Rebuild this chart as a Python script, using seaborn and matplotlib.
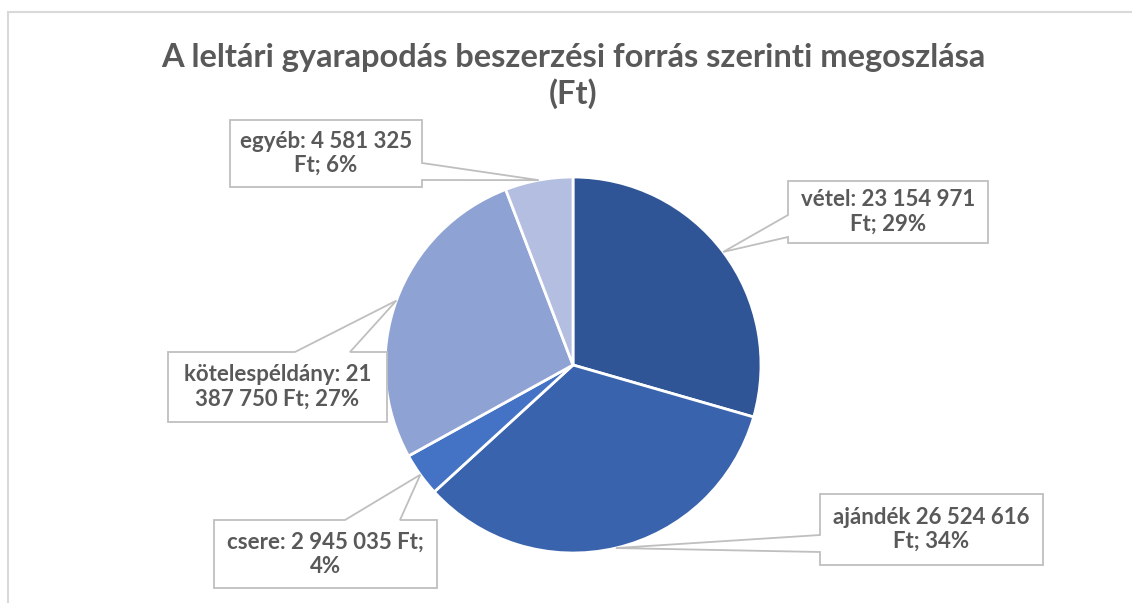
import numpy as np
import matplotlib
matplotlib.use("Agg")
import matplotlib.pyplot as plt
from matplotlib.patches import Polygon, Rectangle
import seaborn as sns

# ---- data ----
categories = ["vétel", "ajándék", "csere", "kötelespéldány", "egyéb"]
values = [23154971, 26524616, 2945035, 21387750, 4581325]
label_texts = [
    "vétel: 23 154 971\nFt; 29%",
    "ajándék 26 524 616\nFt; 34%",
    "csere: 2 945 035 Ft;\n4%",
    "kötelespéldány: 21\n387 750 Ft; 27%",
    "egyéb: 4 581 325\nFt; 6%",
]
colors = ["#2F5597", "#3A63AD", "#4472C4", "#8FA2D4", "#B4BEE0"]
title = "A leltári gyarapodás beszerzési forrás szerinti megoszlása\n(Ft)"

sns.set_theme(style="white")
plt.rcParams["font.family"] = ["Lato", "DejaVu Sans"]

W, H = 1132, 603
fig = plt.figure(figsize=(W / 100, H / 100), dpi=100)
fig.patch.set_facecolor("white")

# chart border (top and left visible, right/bottom run off the image)
fig.add_artist(Rectangle((8 / W, -0.1), 1.2, (H - 12) / H + 0.1, transform=fig.transFigure,
                         fill=False, edgecolor="#D9D9D9", lw=1.5))

cx, cy, R = 573, 365, 188  # pixel layout of pie
ax = fig.add_axes([(cx - R) / W, (H - cy - R) / H, 2 * R / W, 2 * R / H])

wedges, _ = ax.pie(values, colors=colors, startangle=90, counterclock=False, radius=1,
                   wedgeprops=dict(edgecolor="white", linewidth=2))
ax.set_xlim(-1, 1)
ax.set_ylim(-1, 1)
ax.set_aspect("auto")
ax.set_axis_off()

def to_data(px, py):
    return ((px - cx) / R, (cy - py) / R)

# label box layout: (x0, y0, x1, y1) in pixels, side of wedge attachment, base span
boxes = [
    ((788, 181, 988, 243), "left", (215, 237)),
    ((820, 494, 1043, 565), "left", (535, 552)),
    ((214, 520, 437, 588), "top", (345, 400)),
    ((168, 352, 387, 422), "top", (295, 350)),
    ((230, 120, 422, 187), "right", (163, 180)),
]

for w, txt, (bx, side, (a, b)) in zip(wedges, label_texts, boxes):
    ang = np.deg2rad((w.theta1 + w.theta2) / 2)
    P = (np.cos(ang), np.sin(ang))
    x0, y0, x1, y1 = bx
    pts = [to_data(x0, y0)]
    if side == "top":
        pts += [to_data(a, y0), P, to_data(b, y0)]
    pts.append(to_data(x1, y0))
    if side == "right":
        pts += [to_data(x1, a), P, to_data(x1, b)]
    pts.append(to_data(x1, y1))
    if side == "bottom":
        pts += [to_data(b, y1), P, to_data(a, y1)]
    pts.append(to_data(x0, y1))
    if side == "left":
        pts += [to_data(x0, b), P, to_data(x0, a)]
    poly = Polygon(pts, closed=True, facecolor="white", edgecolor="#BFBFBF", lw=1.3,
                   clip_on=False, zorder=5)
    ax.add_patch(poly)
    tx, ty = to_data((x0 + x1) / 2, (y0 + y1) / 2)
    ax.text(tx, ty, txt, ha="center", va="center", fontsize=16, fontweight="bold",
            color="#595959", linespacing=1.2, zorder=6, clip_on=False)

fig.text(573 / W, 1 - 76 / H, title, ha="center", va="center", fontsize=23.5,
         fontweight="bold", color="#595959", linespacing=1.25)

fig.savefig("out.png", dpi=100, facecolor="white")
